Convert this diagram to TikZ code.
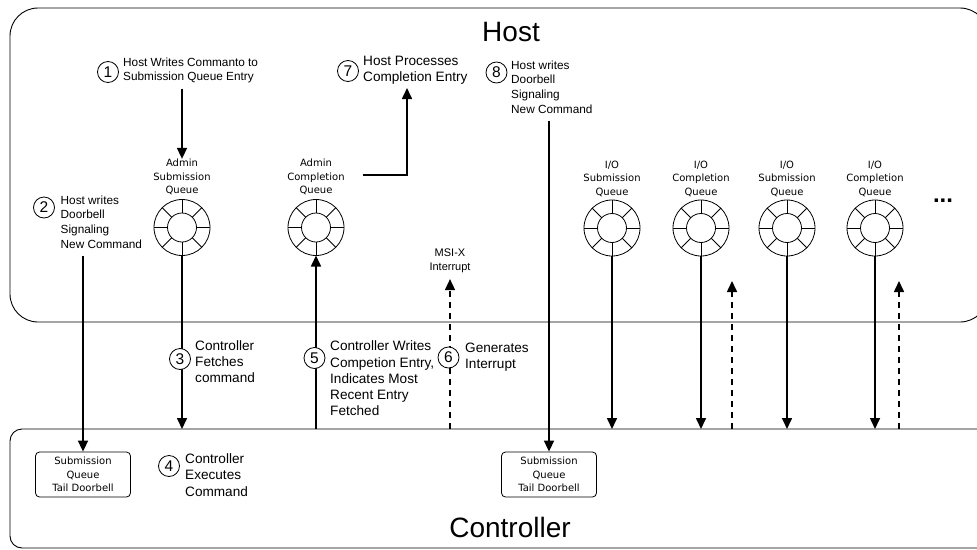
\documentclass[tikz,border=0pt]{standalone}
\usepackage{fontspec}
\setmainfont{Liberation Sans}
\newfontfamily\qfont{DejaVu Sans}
\usetikzlibrary{arrows.meta}
\begin{document}
\begin{tikzpicture}[x=1pt,y=-1pt,
  bigbox/.style={draw, line width=0.9pt, inner sep=0pt, outer sep=0pt, anchor=north west},
  title/.style={inner sep=0pt, font=\fontsize{28}{30}\selectfont},
  ring/.style={circle, draw, line width=0.8pt, minimum size=56pt, inner sep=0pt, outer sep=0pt,
    path picture={
      \draw[line width=0.8pt] (path picture bounding box.center) circle[radius=14.5pt];
      \foreach \a in {0,45,...,315}
        \draw[line width=0.8pt] ([shift={(\a:14.5pt)}]path picture bounding box.center) -- ([shift={(\a:30pt)}]path picture bounding box.center);
    }},
  qlabel/.style={align=center, inner sep=0pt, font=\qfont\fontsize{10}{13.5}\selectfont},
  num/.style={circle, draw, fill=white, line width=0.8pt, minimum size=21pt, inner sep=0pt, font=\fontsize{15.5}{15.5}\selectfont},
  steptext/.style={anchor=west, align=left, inner sep=0pt},
  small/.style={font=\fontsize{11.8}{14.8}\selectfont},
  large/.style={font=\fontsize{13.6}{16.2}\selectfont},
  doorbell/.style={draw, rounded corners=4pt, line width=0.8pt, minimum width=95pt, minimum height=45pt, align=center, inner sep=0pt, font=\qfont\fontsize{10}{13.3}\selectfont},
  arr/.style={line width=1.6pt, -{Triangle[length=11pt,width=10pt]}},
  darr/.style={arr, dash pattern=on 6pt off 5pt}
]
\useasboundingbox (0,0) rectangle (977,549);
\clip (0,0) rectangle (977,549);

% boxes
\node[bigbox, rounded corners=28pt, minimum width=978pt, minimum height=314pt] (host) at (10,8) {};
\node[bigbox, rounded corners=12pt, minimum width=990pt, minimum height=119pt] (ctrl) at (10,429) {};
\node[title] (hosttitle) at (511,32) {Host};
\node[title] (ctrltitle) at (510,527) {Controller};

% queues
\node[ring] (asq) at (182,227.5) {};
\node[qlabel] (asql) at (182,177) {Admin\\Submission\\Queue};
\node[ring] (acq) at (316,227.5) {};
\node[qlabel] (acql) at (316,177) {Admin\\Completion\\Queue};
\node[ring] (io1) at (612,228) {};
\node[qlabel] (io1l) at (612,178.5) {I/O\\Submission\\Queue};
\node[ring] (io2) at (701,228) {};
\node[qlabel] (io2l) at (701,178.5) {I/O\\Completion\\Queue};
\node[ring] (io3) at (787,228) {};
\node[qlabel] (io3l) at (787,178.5) {I/O\\Submission\\Queue};
\node[ring] (io4) at (875,228) {};
\node[qlabel] (io4l) at (875,178.5) {I/O\\Completion\\Queue};
\node[inner sep=0pt, font=\fontsize{24}{24}\selectfont\bfseries] (dots) at (943,201) {...};

% doorbells
\node[doorbell] (db1) at (83,474.5) {Submission\\Queue\\Tail Doorbell};
\node[doorbell] (db2) at (549,474.5) {Submission\\Queue\\Tail Doorbell};

% step texts
\node[steptext, small] (t1) at (123,70.5) {Host Writes Commanto to\\Submission Queue Entry};
\node[steptext, large] (t7) at (363,70) {Host Processes\\Completion Entry};
\node[steptext, small] (t8) at (511,87) {Host writes\\Doorbell\\Signaling\\New Command};
\node[steptext, small] (t2) at (60.5,222) {Host writes\\Doorbell\\Signaling\\New Command};
\node[steptext, large] (t3) at (195,361.7) {Controller\\Fetches\\command};
\node[steptext, large] (t5) at (330,378.5) {Controller Writes\\Competion Entry,\\Indicates Most\\Recent Entry\\Fetched};
\node[steptext, large] (t6) at (465,357) {Generates\\Interrupt};
\node[steptext, large] (t4) at (185,475) {Controller\\Executes\\Command};
\node[qlabel, font=\fontsize{11}{13.8}\selectfont] (msi) at (450,261) {MSI-X\\Interrupt};

% connectors
\coordinate (c7) at (407,88);
\coordinate (d1) at (732,281);
\coordinate (d2) at (899,281);
\draw[arr] ([yshift=-5pt]t1.south -| asq.center) -- (asql.north);
\draw[arr] ([xshift=18pt,yshift=2pt]acql.east) -| (c7);
\draw[arr] ([yshift=-7pt]t2.south -| db1.north) -- (db1.north);
\draw[arr] ([yshift=-7pt]t8.south -| db2.north) -- (db2.north);
\draw[arr] (asq.south) -- (asq.south |- ctrl.north);
\draw[arr] (acq.south |- ctrl.north) -- (acq.south);
\draw[darr] (msi.south |- ctrl.north) -- ([yshift=-6pt]msi.south);
\draw[arr] (io1.south) -- (io1.south |- ctrl.north);
\draw[arr] (io2.south) -- (io2.south |- ctrl.north);
\draw[arr] (io3.south) -- (io3.south |- ctrl.north);
\draw[arr] (io4.south) -- (io4.south |- ctrl.north);
\draw[darr] (d1 |- ctrl.north) -- (d1);
\draw[darr] (d2 |- ctrl.north) -- (d2);

% step numbers
\node[num] (n1) at (108,72) {1};
\node[num] (n7) at (348,71) {7};
\node[num] (n8) at (496.5,72.5) {8};
\node[num] (n2) at (44,207.5) {2};
\node[num] (n3) at (180,359) {3};
\node[num] (n5) at (314.5,358) {5};
\node[num] (n6) at (448.5,357.5) {6};
\node[num] (n4) at (169,466) {4};
\end{tikzpicture}
\end{document}
